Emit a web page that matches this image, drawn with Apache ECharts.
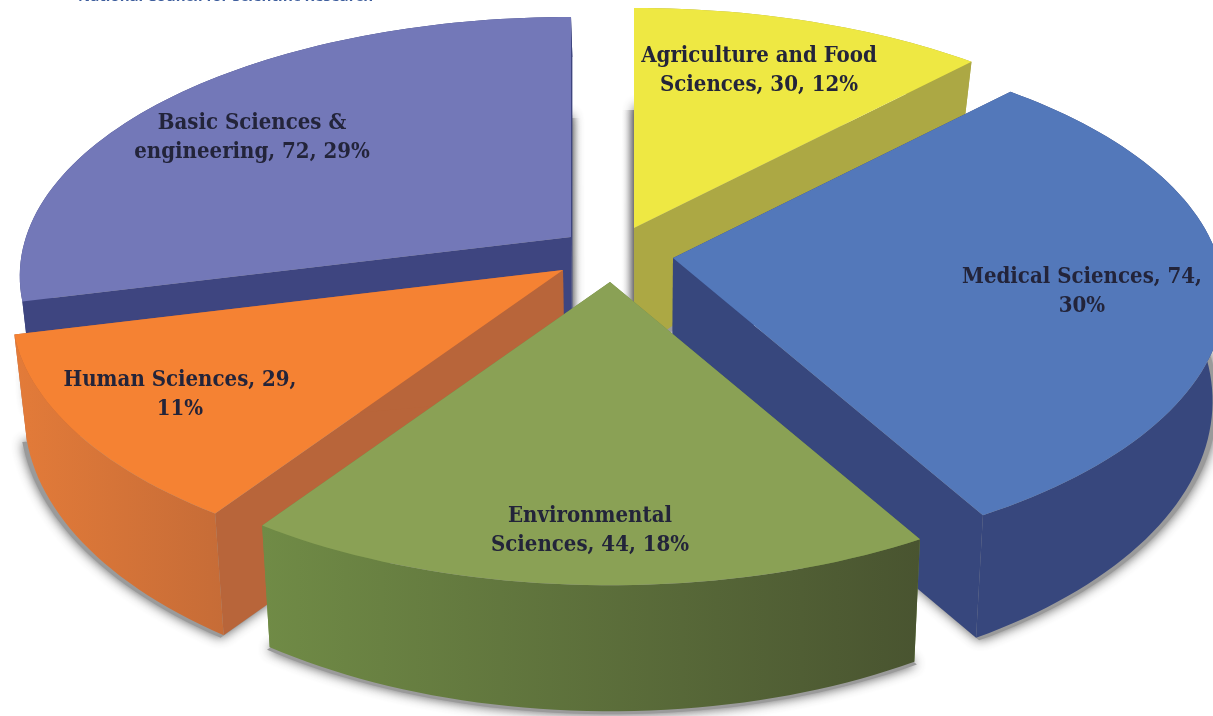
<!DOCTYPE html>
<html><head><meta charset="utf-8">
<style>html,body{margin:0;padding:0;background:#fff}#c{width:1213px;height:716px}</style>
<script src="https://cdn.jsdelivr.net/npm/echarts@6/dist/echarts.min.js"></script>
</head><body><div id="c"></div>
<script>
// ---- data ----
const categories = ['Agriculture and Food\nSciences', 'Medical Sciences', 'Environmental\nSciences', 'Human Sciences', 'Basic Sciences &\nengineering'];
const values = [30, 74, 44, 29, 72];
const percents = [12, 30, 18, 11, 29];
const valueSeparators = [', ', ', ', ', ', ', ', ', '];
const percentSeparators = [', ', ',\n', ', ', ',\n', ', '];
const sourceNote = 'National Council for Scientific Research';

// ---- layout and style ----
const sliceTips = [[634, 228], [673, 258], [610, 282], [563, 270], [571, 237]];
const labelCentres = [[759, 71], [1082, 292], [590, 531], [180, 395], [252, 138]];
const drawOrder = [0, 4, 1, 3, 2];
const topColors = ['#eee843', '#5378ba', '#8aa155', '#f58233', '#7378b8'];
const radialColors = ['#aca844', '#37477d', '#6f8a45', '#b8653a', '#3e4580'];
const arcColors = [['#aca844', '#aca844'], ['#37477d', '#37477d'], ['#708b46', '#495430'], ['#e37b39', '#c66c37'], ['#3e4580', '#3e4580']];
const RX = 545, KY = 255, PY = 0.159, QX = 0.15, DEPTH = 100, DEPTH_BACK = 60, DEPTH_FRONT = 26, TIP_DEPTH = 125, VANISH_X = 640, SQUEEZE = 0.98;

const total = values.reduce((a, b) => a + b, 0);
const angles = [];
values.reduce((acc, v) => { angles.push([acc, acc + v / total * 2 * Math.PI]); return acc + v / total * 2 * Math.PI; }, 0);

function topPoint(tip, a) {
  const X = Math.sin(a), Y = Math.cos(a);
  return [tip[0] + RX * X / (1 + QX * Y), tip[1] - KY * Y / (1 + PY * Y)];
}
function squeezeX(x) { return VANISH_X + (x - VANISH_X) * SQUEEZE; }
function lower(p, Y) {
  const d = Y >= 0 ? DEPTH - DEPTH_BACK * Y : DEPTH - DEPTH_FRONT * Y;
  return [squeezeX(p[0]), p[1] + d];
}
function shadowPoint(p, Y) {
  const d = Y >= 0 ? DEPTH : DEPTH - DEPTH_FRONT * Y;
  const cx = 600, cy = 320, g = 1.008;
  return [cx + (squeezeX(p[0]) - cx) * g, cy + (p[1] + d - cy) * g];
}
function arcPts(tip, a0, a1) {
  const pts = [], n = Math.max(12, Math.round((a1 - a0) * 40));
  for (let i = 0; i <= n; i++) {
    const a = a0 + (a1 - a0) * i / n, t = topPoint(tip, a), Y = Math.cos(a);
    pts.push({ t, b: lower(t, Y), s: shadowPoint(t, Y) });
  }
  return pts;
}
function hGrad(c) { return new echarts.graphic.LinearGradient(0, 0, 1, 0, [{ offset: 0, color: c[0] }, { offset: 1, color: c[1] }]); }

function renderSlice(params, api) {
  const i = api.value(0);
  const tip = sliceTips[i], [a0, a1] = angles[i];
  const arc = arcPts(tip, a0, a1);
  const tipB = [squeezeX(tip[0]), tip[1] + TIP_DEPTH];
  const top = [tip].concat(arc.map(p => p.t));
  const shadow = [tipB].concat(arc.map(p => p.s));
  const face = (pts, fill, extra) => Object.assign({ type: 'polygon', shape: { points: pts }, style: { fill, stroke: null }, silent: true }, extra || {});
  const first = arc[0], last = arc[arc.length - 1];
  const children = [
    face(shadow, '#999', { style: { fill: '#9a9a9a', shadowBlur: 12, shadowColor: 'rgba(60,60,60,0.85)' } }),
    face([tip, first.t, first.b, tipB], radialColors[i]),
    face([tip, last.t, last.b, tipB], radialColors[i]),
    face(arc.map(p => p.t).concat(arc.map(p => p.b).reverse()), hGrad(arcColors[i])),
    face(top, topColors[i]),
    { type: 'text', silent: true, z2: 50, x: labelCentres[i][0], y: labelCentres[i][1],
      style: { text: categories[i] + valueSeparators[i] + values[i] + percentSeparators[i] + percents[i] + '%',
        align: 'center', verticalAlign: 'middle', fill: '#23243a', lineHeight: 29,
        font: 'bold 22px "DejaVu Serif Condensed","Liberation Serif",serif' } }
  ];
  return { type: 'group', children };
}

const chart = echarts.init(document.getElementById('c'), null, { renderer: 'canvas' });
chart.setOption({
  backgroundColor: '#ffffff',
  animation: false,
  graphic: [
    { type: 'text', x: 78, y: -11, silent: true,
      style: { text: sourceNote, fill: '#3f5f9e', font: 'bold 15px "Open Sans","Noto Sans",sans-serif' } },
    { type: 'rect', z: 1, shape: { x: 570, y: 118, width: 11, height: 190 }, silent: true,
      style: { fill: new echarts.graphic.LinearGradient(0, 0, 1, 0, [{ offset: 0, color: '#98989b' }, { offset: 1, color: 'rgba(255,255,255,0)' }]) } },
    { type: 'rect', z: 1, shape: { x: 621, y: 110, width: 13, height: 205 }, silent: true,
      style: { fill: new echarts.graphic.LinearGradient(0, 0, 1, 0, [{ offset: 0, color: 'rgba(255,255,255,0)' }, { offset: 1, color: '#98969a' }]) } }
  ],
  series: [{
    type: 'custom',
    coordinateSystem: 'none',
    z: 4,
    renderItem: renderSlice,
    clip: false,
    data: drawOrder.map(i => [i, values[i]])
  }]
});
</script></body></html>
